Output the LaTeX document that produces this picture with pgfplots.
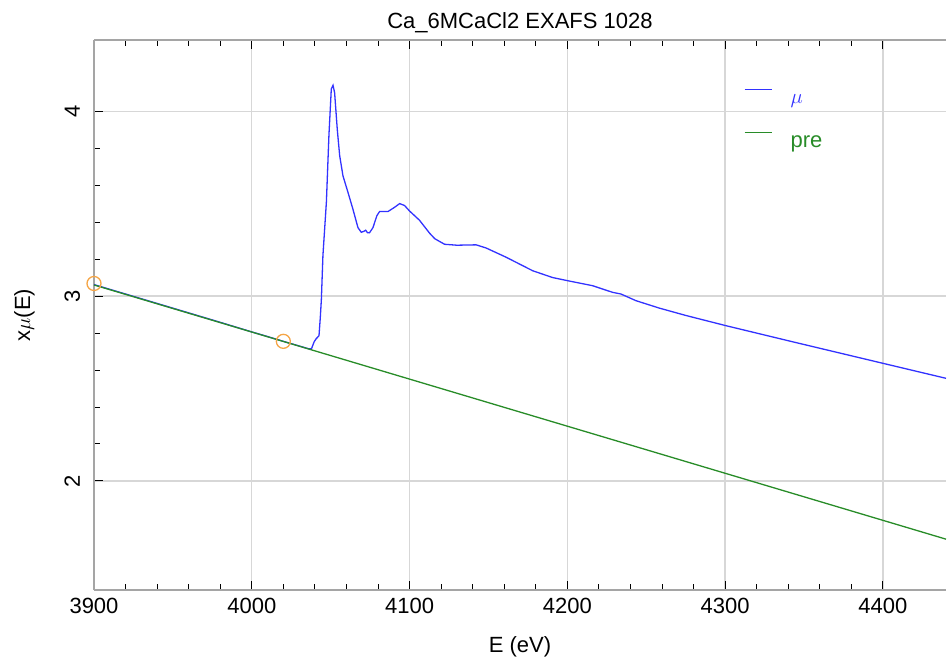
\documentclass[border=0pt]{standalone}
\usepackage{pgfplots}
\pgfplotsset{compat=1.18}
\usepackage{fontspec}
\setmainfont{Liberation Sans}
\definecolor{mublue}{RGB}{50,50,255}
\definecolor{pregreen}{RGB}{40,140,40}
\definecolor{circorange}{RGB}{245,165,70}
\definecolor{axgray}{RGB}{165,165,165}
\definecolor{gridgray}{RGB}{215,215,215}
\begin{document}
\begin{tikzpicture}
\useasboundingbox (-94pt,-69pt) rectangle (854pt,590pt);
\begin{axis}[
  scale only axis,
  width=852pt, height=550pt,
  xmin=3900, xmax=4440,
  ymin=1.41, ymax=4.385,
  axis x line*=box,
  axis y line*=left,
  axis line style={draw=axgray, line width=2.4pt},
  xtick={3900,4000,4100,4200,4300,4400},
  ytick={2,3,4},
  minor x tick num=4,
  minor y tick num=4,
  tick align=inside,
  major tick length=9pt,
  minor tick length=6pt,
  every tick/.style={black, line width=0.9pt},
  grid=major,
  major grid style={draw=gridgray, line width=1.3pt},
  font=\fontsize{22pt}{26pt}\selectfont,
  /pgf/number format/assume math mode=true,
  /pgf/number format/1000 sep={},
  xticklabel style={anchor=base, font=\fontsize{22pt}{26pt}\selectfont},
  xticklabel shift=23pt,
  yticklabel style={rotate=90, anchor=base, font=\fontsize{22pt}{26pt}\selectfont},
  yticklabel shift=14pt,
  title={Ca\_6MCaCl2 EXAFS 1028},
  title style={at={(axis description cs:0.5,1)}, anchor=base, yshift=5pt, font=\fontsize{22pt}{26pt}\selectfont},
  xlabel={E (eV)},
  xlabel style={at={(axis description cs:0.5,0)}, anchor=base, yshift=-62pt},
  ylabel={x$\mu$(E)},
  ylabel style={at={(axis description cs:-0.075,0.5)}, anchor=base, rotate=0},
  legend style={at={(axis description cs:0.759,0.915)}, anchor=north west, draw=none, fill=none,
    row sep=25pt, font=\fontsize{22pt}{26pt}\selectfont},
  legend cell align=left,
  legend image code/.code={\draw[#1, line width=1.3pt] (0pt,10pt) -- (27pt,10pt); \path[draw=none, fill=none] (0pt,0pt) rectangle (44pt,10pt);},
  clip=false,
]
\addplot[color=mublue, line width=1.3pt] coordinates {
(3900,3.062) (3920,3.011) (3940,2.960) (3960,2.909) (3980,2.858) (4000,2.806)
(4010,2.781) (4020,2.755) (4030,2.730) (4036,2.715) (4037.8,2.714)
(4039.5,2.752) (4040.9,2.770) (4042.6,2.785) (4043.4,2.88) (4044.1,2.98) (4045.1,3.22)
(4047.3,3.51) (4048.9,3.87) (4050.4,4.12) (4051.5,4.14) (4052.5,4.10) (4054.2,3.90)
(4055.7,3.76) (4057.8,3.65) (4061,3.56) (4064.1,3.47) (4067.3,3.37) (4069.4,3.345)
(4071,3.35) (4072.2,3.356) (4073.3,3.343) (4074.6,3.342) (4076.8,3.37) (4079.3,3.435) (4081,3.457)
(4086.3,3.457) (4090.5,3.48) (4093.7,3.50) (4096.8,3.49) (4100,3.46) (4106.3,3.41)
(4112.7,3.34) (4116,3.31) (4122.2,3.28) (4130,3.275) (4142.2,3.277) (4148.5,3.26)
(4161.2,3.21) (4178,3.137) (4190.7,3.10) (4200.2,3.083) (4216,3.056) (4228.7,3.02)
(4234,3.011) (4243.5,2.975) (4258.2,2.935) (4275.1,2.895) (4300.4,2.84) (4342.6,2.753)
(4399.6,2.637) (4440,2.555)
};
\addlegendentry{\textcolor{mublue}{$\mu$}}
\addplot[color=pregreen, line width=1.3pt] coordinates {
(3900,3.060) (4440,1.685)
};
\addlegendentry{\textcolor{pregreen}{pre}}
\addplot[only marks, mark=o, mark size=7pt, color=circorange, line width=1.3pt, forget plot] coordinates {
(3900,3.068) (4020,2.755)
};
\end{axis}
\end{tikzpicture}
\end{document}
